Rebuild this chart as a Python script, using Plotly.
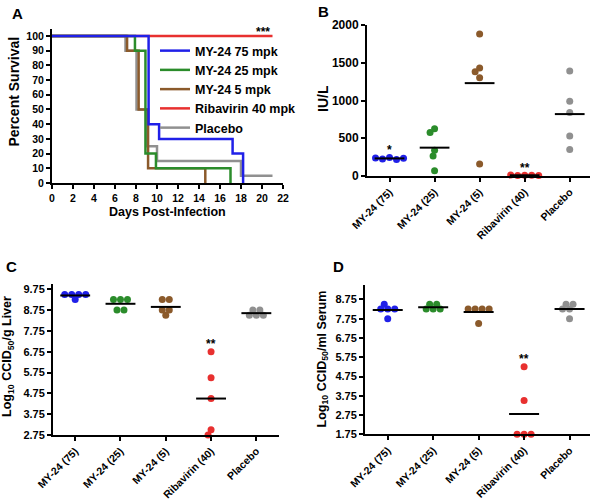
import numpy as np
import plotly.graph_objects as go

W, H = 596, 500

# ---------------- data ----------------
# Panel A: Kaplan-Meier steps (days, percent survival)
surv_names = ["MY-24 75 mpk", "MY-24 25 mpk", "MY-24 5 mpk", "Ribavirin 40 mpk", "Placebo"]
t_my75 = [0, 9.2, 10.2, 17.2, 18.2]
s_my75 = [100, 40, 30, 20, 0]
t_my25 = [0, 7.9, 8.9, 9.9, 17.0]
s_my25 = [100, 90, 20, 10, 0]
t_my5 = [0, 7.15, 8.25, 9.15, 14.6]
s_my5 = [100, 90, 50, 10, 0]
t_riba = [0, 21.0]
s_riba = [100, 100]
t_plac = [0, 7.0, 8.05, 9.05, 10.0, 18.0, 21.0]
s_plac = [100, 90, 50, 25, 15, 5, 5]
sig_A = "***"

groups = ["MY-24 (75)", "MY-24 (25)", "MY-24 (5)", "Ribavirin (40)", "Placebo"]

# Panel B: IU/L
B_vals = [
    [240, 225, 245, 220, 235],
    [340, 575, 265, 70, 627],
    [1380, 1880, 1430, 1300, 160],
    [12, 8, 10, 10, 8],
    [1390, 990, 840, 530, 350],
]
B_sig = ["*", "", "", "**", ""]

# Panel C: Log10 CCID50/g liver
C_vals = [
    [9.5, 9.5, 9.25, 9.5, 9.5],
    [9.25, 8.75, 9.25, 8.75, 9.25],
    [9.25, 8.75, 8.5, 9.25, 8.75],
    [6.75, 5.5, 4.5, 2.75, 3.0],
    [8.5, 8.75, 8.5, 8.75, 8.5],
]
C_sig = ["", "", "", "**", ""]

# Panel D: Log10 CCID50/ml serum
D_vals = [
    [8.25, 8.5, 8.25, 7.75, 8.25],
    [8.25, 8.5, 8.25, 8.5, 8.25],
    [8.25, 8.25, 7.5, 8.25, 8.25],
    [5.25, 3.5, 1.75, 1.75, 1.75],
    [8.25, 8.5, 7.75, 8.25, 8.5],
]
D_sig = ["", "", "", "**", ""]

colors = ["#2020e8", "#2b8c2b", "#8b5a2b", "#e8302f", "#909090"]

FONT = "Liberation Sans, Arial, sans-serif"

# ---------------- layout helpers ----------------
# panel boxes in pixels: (x0, x1, ytop, ybottom), axis ranges
panels = {
    "A": dict(px=(52, 283, 28.6, 183), xr=(0, 22), yr=(0, 105)),
    "B": dict(px=(367, 590, 25, 176), xr=(-0.5, 4.45), yr=(0, 2000)),
    "C": dict(px=(53, 279, 284, 435), xr=(-0.49, 4.5), yr=(2.75, 10.0)),
    "D": dict(px=(365, 590, 285, 434.3), xr=(-0.5, 4.45), yr=(1.75, 9.5)),
}


def xdom(p):
    return [p["px"][0] / W, p["px"][1] / W]


def ydom(p):
    return [1 - p["px"][3] / H, 1 - p["px"][2] / H]


def scales(p):
    x0, x1, yt, yb = p["px"]
    sx = (x1 - x0) / (p["xr"][1] - p["xr"][0])
    sy = (yb - yt) / (p["yr"][1] - p["yr"][0])
    return sx, sy


def swarm(vals, sx, sy, s=7.0, dmin=5.8):
    y = np.array(vals, float) * sy
    n = len(y)
    order = sorted(range(n), key=lambda i: -y[i])
    rows = []
    for i in order:
        if rows and y[rows[-1][0]] - y[i] <= s * 0.5:
            rows[-1].append(i)
        else:
            rows.append([i])
    off = np.zeros(n)
    placed = []
    for row in sorted(rows, key=lambda r: -len(r)):
        row = sorted(row)
        base = [(k - (len(row) - 1) / 2) * s for k in range(len(row))]
        shift = 0.0
        for step in range(0, 200):
            shift = (step + 1) // 2 * 0.5 * (-1 if step % 2 else 1)
            ok = True
            for b, i in zip(base, row):
                for (px_, py_) in placed:
                    if np.hypot(b + shift - px_, y[i] - py_) < dmin:
                        ok = False
                        break
                if not ok:
                    break
            if ok:
                break
        for b, i in zip(base, row):
            off[i] = b + shift
            placed.append((b + shift, y[i]))
    return off / sx


fig = go.Figure()

axis_common = dict(showline=True, linecolor="black", linewidth=2, ticks="outside",
                   ticklen=4, tickwidth=2, tickcolor="black", showgrid=False,
                   zeroline=False, fixedrange=True, automargin=False)

# ---------------- Panel A ----------------
pA = panels["A"]
surv = [(t_plac, s_plac, 4), (t_riba, s_riba, 3), (t_my5, s_my5, 2), (t_my25, s_my25, 1), (t_my75, s_my75, 0)]
for t, s, k in surv:
    fig.add_trace(go.Scatter(x=t, y=s, mode="lines", line=dict(color=colors[k], width=2.5, shape="hv"),
                             name=surv_names[k], legendrank=k + 1, xaxis="x", yaxis="y"))

fig.update_layout(
    xaxis=dict(domain=xdom(pA), range=pA["xr"], tickvals=list(range(0, 23, 2)), anchor="y",
               tickfont=dict(family=FONT, size=10.5, color="black", weight="bold"), **axis_common),
    yaxis=dict(domain=ydom(pA), range=pA["yr"], tickvals=list(range(0, 101, 10)), anchor="x",
               tickfont=dict(family=FONT, size=10.5, color="black", weight="bold"), **axis_common),
)

annots = []
annots.append(dict(x=t_riba[-1] - 0.9, y=100 + 4 / scales(pA)[1], xref="x", yref="y", text=sig_A,
                   showarrow=False, font=dict(family=FONT, size=12, color="black", weight="bold"),
                   xanchor="center", yanchor="middle"))

# ---------------- Panels B, C, D ----------------
specs = [("B", B_vals, B_sig, "2", [0, 500, 1000, 1500, 2000], None, 12),
         ("C", C_vals, C_sig, "3", [2.75 + i for i in range(8)], ".2f", 11),
         ("D", D_vals, D_sig, "4", [1.75 + i for i in range(8)], ".2f", 11)]

for key, vals, sig, ax, yticks, fmt, tfs in specs:
    p = panels[key]
    sx, sy = scales(p)
    xa, ya = "x" + ax, "y" + ax
    for g, v in enumerate(vals):
        off = swarm(v, sx, sy)
        fig.add_trace(go.Scatter(x=g + off, y=v, mode="markers", xaxis=xa, yaxis=ya, showlegend=False,
                                 marker=dict(color=colors[g], size=7, line=dict(width=0)),
                                 cliponaxis=False))
        m = float(np.mean(v))
        fig.add_trace(go.Scatter(x=[g - 0.33, g + 0.33], y=[m, m], mode="lines", xaxis=xa, yaxis=ya,
                                 showlegend=False, line=dict(color="black", width=2), cliponaxis=False))
        if sig[g]:
            annots.append(dict(x=g, y=max(v) + 7.5 / sy, xref=xa, yref=ya, text=sig[g], showarrow=False,
                               font=dict(family=FONT, size=12, color="black", weight="bold"),
                               xanchor="center", yanchor="middle"))
    ydict = dict(domain=ydom(p), range=p["yr"], tickvals=yticks, anchor=xa,
                 tickfont=dict(family=FONT, size=tfs, color="black", weight="bold"), **axis_common)
    if fmt:
        ydict["tickformat"] = fmt
    fig.layout["xaxis" + ax] = dict(domain=xdom(p), range=p["xr"], tickvals=list(range(len(groups))),
                                    ticktext=groups, tickangle=-45, anchor=ya,
                                    tickfont=dict(family=FONT, size=10.5, color="black", weight="bold"),
                                    **axis_common)
    fig.layout["yaxis" + ax] = ydict

# ---------------- text labels ----------------
def lab(x, y, text, size, angle=0):
    return dict(x=x / W, y=1 - y / H, xref="paper", yref="paper", text=text, showarrow=False,
                textangle=angle, xanchor="center", yanchor="middle",
                font=dict(family=FONT, size=size, color="black", weight="bold"))

annots += [
    lab(17, 13, "A", 15), lab(323, 11, "B", 15), lab(11.5, 266, "C", 15), lab(338, 266, "D", 15),
    lab(13.5, 92, "Percent Survival", 14, -90),
    lab(167, 212, "Days Post-Infection", 12.5),
    lab(323, 99, "IU/L", 14, -90),
    lab(8, 357, "Log<sub>10</sub> CCID<sub>50</sub>/g Liver", 12.5, -90),
    lab(322.5, 359, "Log<sub>10</sub> CCID<sub>50</sub>/ml Serum", 12.5, -90),
]

fig.update_layout(
    template="none",
    width=W, height=H, margin=dict(l=0, r=0, t=0, b=0, autoexpand=False),
    paper_bgcolor="white", plot_bgcolor="white",
    annotations=annots,
    showlegend=True,
    legend=dict(x=155 / W, y=1 - 36 / H, xanchor="left", yanchor="top", bgcolor="rgba(0,0,0,0)",
                font=dict(family=FONT, size=12.5, color="black", weight="bold"),
                tracegroupgap=0, itemwidth=30),
    font=dict(family=FONT, color="black"),
)

fig.write_html("out.html", config={"displayModeBar": False},
               post_script="document.body.style.margin='0';document.body.style.padding='0';")
